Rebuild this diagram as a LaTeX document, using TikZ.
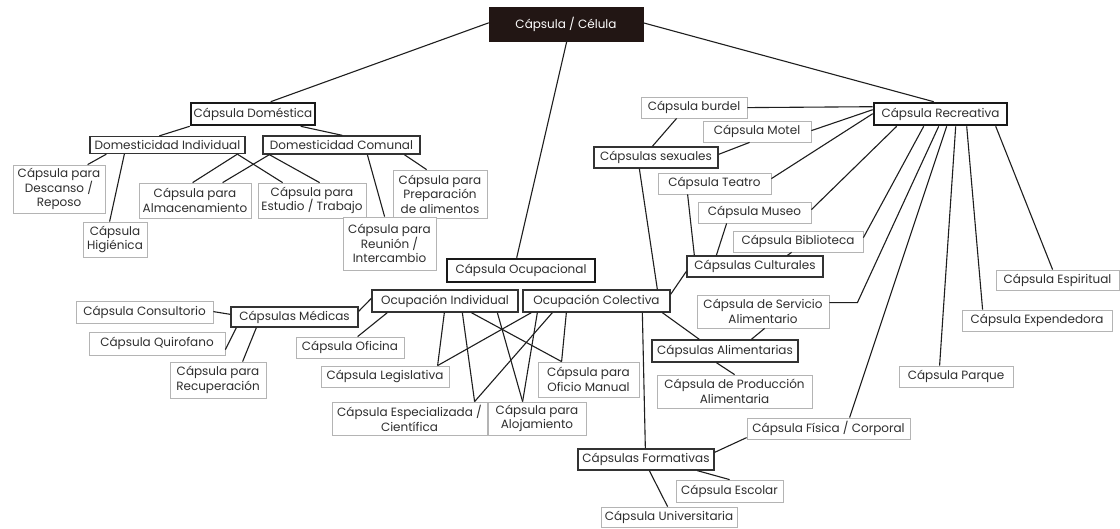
\documentclass[tikz,border=0pt]{standalone}
\usepackage{fontspec}
\setmainfont{Poppins}
\usetikzlibrary{calc}
\definecolor{txt}{HTML}{2E2E2E}
\definecolor{leafgray}{HTML}{B4B4B4}
\definecolor{midgray}{HTML}{333333}
\definecolor{linecol}{HTML}{1E1E1E}
\definecolor{cellfill}{HTML}{221614}
\begin{document}
\begin{tikzpicture}[x=1pt,y=-1pt,
  box/.style={draw, fill=white, inner sep=0pt, align=center, text=txt, font=\fontsize{12}{14.5}\selectfont},
  leaf/.style={box, draw=leafgray, line width=0.8pt},
  mid/.style={box, draw=midgray, line width=1.3pt},
  main/.style={box, draw=black!90, line width=2.6pt},
  link/.style={draw=linecol, line width=1.1pt}]
\useasboundingbox[fill=white] (0,0) rectangle (1120,528);

% root
\node[box, fill=cellfill, draw=cellfill, text=white, minimum width=154pt, minimum height=34pt] (cel) at (566,24) {Cápsula / Célula};

% domestic
\node[main, minimum width=124pt, minimum height=22pt] (dom) at (253,114) {Cápsula Doméstica};
\node[mid, minimum width=155pt, minimum height=17pt] (dind) at (167.5,145) {Domesticidad Individual};
\node[mid, minimum width=157pt, minimum height=18pt] (dcom) at (341.5,145) {Domesticidad Comunal};
\node[leaf, minimum width=92pt, minimum height=48pt] (desc) at (59,189) {Cápsula para\\Descanso /\\Reposo};
\node[leaf, minimum width=64pt, minimum height=35pt] (hig) at (115,239.5) {Cápsula\\Higiénica};
\node[leaf, minimum width=112pt, minimum height=35pt] (alm) at (195,200.5) {Cápsula para\\Almacenamiento};
\node[leaf, minimum width=108pt, minimum height=35pt] (est) at (312,200.5) {Cápsula para\\Estudio / Trabajo};
\node[leaf, minimum width=94pt, minimum height=48pt] (prep) at (440,194) {Cápsula para\\Preparación\\de alimentos};
\node[leaf, minimum width=93pt, minimum height=53pt] (reu) at (389.5,243.5) {Cápsula para\\Reunión /\\Intercambio};

% occupational
\node[main, minimum width=148pt, minimum height=23pt] (ocu) at (521,270.5) {Cápsula Ocupacional};
\node[mid, minimum width=146pt, minimum height=22pt] (oind) at (445,301) {Ocupación Individual};
\node[mid, minimum width=147pt, minimum height=22pt] (ocol) at (596.5,301) {Ocupación Colectiva};
\node[mid, minimum width=127pt, minimum height=20pt] (med) at (294.5,317) {Cápsulas Médicas};
\node[leaf, minimum width=137pt, minimum height=22pt] (cons) at (144.5,312) {Cápsula Consultorio};
\node[leaf, minimum width=136pt, minimum height=23pt] (quir) at (157,343.5) {Cápsula Quirofano};
\node[leaf, minimum width=96pt, minimum height=36pt] (recu) at (218,380) {Cápsula para\\Recuperación};
\node[leaf, minimum width=108pt, minimum height=21pt] (ofi) at (350,347.5) {Cápsula Oficina};
\node[leaf, minimum width=128pt, minimum height=21pt] (leg) at (385,376.5) {Cápsula Legislativa};
\node[leaf, minimum width=155pt, minimum height=33pt] (esp) at (409.5,418.5) {Cápsula Especializada /\\Científica};
\node[leaf, minimum width=98pt, minimum height=33pt] (alo) at (537,418.5) {Cápsula para\\Alojamiento};
\node[leaf, minimum width=101pt, minimum height=35pt] (ofm) at (588.5,379.5) {Cápsula para\\Oficio Manual};

% recreational
\node[main, minimum width=133pt, minimum height=22pt] (rec) at (940.5,114) {Cápsula Recreativa};
\node[leaf, minimum width=106pt, minimum height=21pt] (bur) at (694,107.5) {Cápsula burdel};
\node[leaf, minimum width=108pt, minimum height=21pt] (mot) at (757,131.5) {Cápsula Motel};
\node[mid, minimum width=124pt, minimum height=21pt] (sex) at (656,157.5) {Cápsulas sexuales};
\node[leaf, minimum width=113pt, minimum height=21pt] (tea) at (714.5,183.5) {Cápsula Teatro};
\node[leaf, minimum width=113pt, minimum height=21pt] (mus) at (754.5,212.5) {Cápsula Museo};
\node[leaf, minimum width=130pt, minimum height=21pt] (bib) at (798,241.5) {Cápsula Biblioteca};
\node[mid, minimum width=136pt, minimum height=21pt] (cul) at (755,266.5) {Cápsulas Culturales};
\node[leaf, minimum width=123pt, minimum height=20pt] (espi) at (1057.5,280) {Cápsula Espiritual};
\node[leaf, minimum width=150pt, minimum height=21pt] (expe) at (1037,320.5) {Cápsula Expendedora};
\node[leaf, minimum width=114pt, minimum height=21pt] (par) at (956,376.5) {Cápsula Parque};
\node[leaf, minimum width=132pt, minimum height=33pt] (serv) at (763,311.5) {Cápsula de Servicio\\Alimentario};
\node[mid, minimum width=146pt, minimum height=22pt] (alim) at (725,351) {Cápsulas Alimentarias};
\node[leaf, minimum width=155pt, minimum height=33pt] (prod) at (734.5,391.5) {Cápsula de Producción\\Alimentaria};
\node[leaf, minimum width=163pt, minimum height=21pt] (fis) at (828.5,428.5) {Cápsula Física / Corporal};
\node[mid, minimum width=136pt, minimum height=21pt] (form) at (646,459.5) {Cápsulas Formativas};
\node[leaf, minimum width=107pt, minimum height=22pt] (escol) at (729.5,491) {Cápsula Escolar};
\node[leaf, minimum width=136pt, minimum height=20pt] (univ) at (669,517) {Cápsula Universitaria};

% connectors
\draw[link] ([yshift=-16pt]cel.north west) -- ([xshift=81pt]dom.north west);
\draw[link] ([xshift=78pt]cel.south west) -- ([xshift=71pt]ocu.north west);
\draw[link] ([yshift=-16pt]cel.north east) -- ([xshift=61pt]rec.north west);

\draw[link] (dom.south west) -- ([xshift=70pt]dind.north west);
\draw[link] ([xshift=111pt]dom.south west) -- ([xshift=80pt]dcom.north west);
\draw[link] ([xshift=17pt]dind.south west) -- ([xshift=75pt]desc.north west);
\draw[link] ([xshift=35pt]dind.south west) -- ([xshift=27pt]hig.north west);
\draw[link] ([xshift=148pt]dind.south west) -- ([xshift=54pt]alm.north west);
\draw[link] ([xshift=148pt]dind.south west) -- ([xshift=25pt]est.north west);
\draw[link] ([xshift=7pt]dcom.south west) -- ([xshift=84pt]alm.north west);
\draw[link] ([xshift=7pt]dcom.south west) -- ([xshift=62pt]est.north west);
\draw[link] ([xshift=105pt]dcom.south west) -- ([xshift=42pt]reu.north west);
\draw[link] ([xshift=142pt]dcom.south west) -- ([xshift=34pt]prep.north west);

\draw[link] ([yshift=-9pt]oind.north west) -- ([yshift=-5pt]med.north east);
\draw[link] ([xshift=16pt]oind.south west) -- ([xshift=62pt]ofi.north west);
\draw[link] ([yshift=-11pt]cons.north east) -- ([yshift=-8pt]med.north west);
\draw[link] ([xshift=6pt]med.south west) -- ([yshift=-18pt]quir.north east);
\draw[link] ([xshift=26pt]med.south west) -- ([xshift=73pt]recu.north west);
\draw[link] ([xshift=73pt]oind.south west) -- ([xshift=117pt]leg.north west);
\draw[link] ([xshift=9pt]ocol.south west) -- ([xshift=117pt]leg.north west);
\draw[link] ([xshift=91pt]oind.south west) -- ([xshift=143pt]esp.north west);
\draw[link] ([xshift=30pt]ocol.south west) -- ([xshift=143pt]esp.north west);
\draw[link] ([xshift=100pt]oind.south west) -- ([xshift=24pt]ofm.north west);
\draw[link] ([xshift=44pt]ocol.south west) -- ([xshift=24pt]ofm.north west);
\draw[link] ([xshift=126pt]oind.south west) -- ([xshift=35pt]alo.north west);
\draw[link] ([xshift=15pt]ocol.south west) -- ([xshift=35pt]alo.north west);
\draw[link] ([yshift=-5pt]ocol.north east) -- ([yshift=-16pt]cul.north west);
\draw[link] ([xshift=140pt]ocol.south west) -- ([xshift=48pt]alim.north west);
\draw[link] ([xshift=120pt]ocol.south west) -- ([xshift=68pt]form.north west);
\draw[link] ([xshift=46pt]sex.south west) -- ([xshift=135pt]ocol.north west);

\draw[link] ([xshift=59pt]sex.north west) -- ([xshift=36pt]bur.south west);
\draw[link] ([yshift=-8pt]sex.north east) -- ([xshift=47pt]mot.south west);
\draw[link] ([yshift=-11pt]bur.north east) -- ([yshift=-5pt]rec.north west);
\draw[link] ([yshift=-10pt]mot.north east) -- ([yshift=-8pt]rec.north west);
\draw[link] ([yshift=-6pt]tea.north east) -- ([yshift=-12pt]rec.north west);
\draw[link] ([yshift=-8pt]mus.north east) -- ([xshift=24pt]rec.south west);
\draw[link] ([yshift=-7pt]bib.north east) -- ([xshift=51pt]rec.south west);
\draw[link] ([yshift=-8pt]serv.north east) -- ++(28,0) -- ([xshift=66pt]rec.south west);
\draw[link] ([xshift=103pt]fis.north west) -- ([xshift=74pt]rec.south west);
\draw[link] ([xshift=41pt]par.north west) -- ([xshift=83pt]rec.south west);
\draw[link] ([xshift=21pt]expe.north west) -- ([xshift=94pt]rec.south west);
\draw[link] ([xshift=57pt]espi.north west) -- ([xshift=123pt]rec.south west);
\draw[link] ([xshift=68pt]serv.south west) -- ([xshift=100pt]alim.north west);
\draw[link] ([xshift=65pt]alim.south west) -- ([xshift=78pt]prod.north west);
\draw[link] ([xshift=30pt]tea.south west) -- ([xshift=8pt]cul.north west);
\draw[link] ([xshift=29pt]mus.south west) -- ([xshift=30pt]cul.north west);
\draw[link] ([xshift=59pt]bib.south west) -- ([xshift=101pt]cul.north west);
\draw[link] ([yshift=-20pt]fis.north west) -- ([yshift=-4pt]form.north east);
\draw[link] ([xshift=120pt]form.south west) -- ([xshift=54pt]escol.north west);
\draw[link] ([xshift=72pt]form.south west) -- ([xshift=67pt]univ.north west);
\end{tikzpicture}
\end{document}
